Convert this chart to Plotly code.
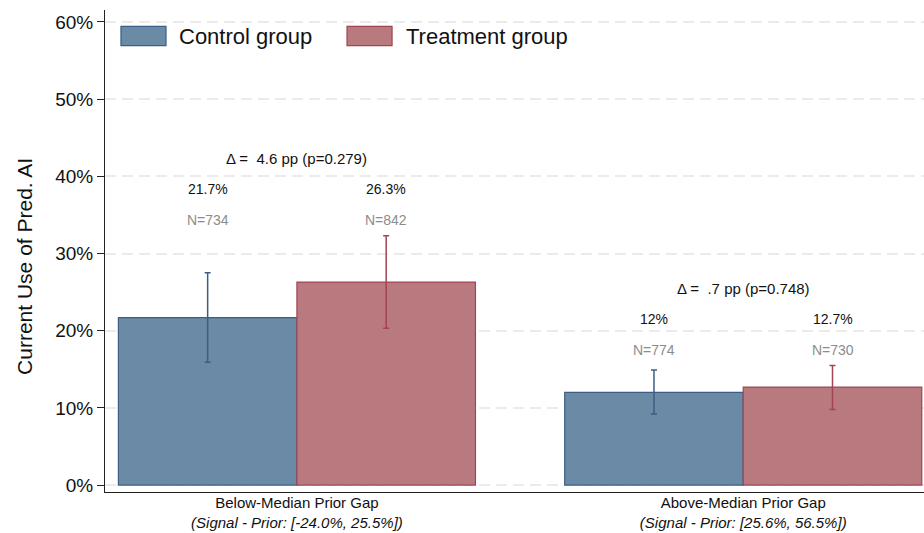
import plotly.graph_objects as go

# ---- data ----
groups = ["Below-Median Prior Gap", "Above-Median Prior Gap"]
gap_ranges = ["[-24.0%, 25.5%]", "[25.6%, 56.5%]"]
control = [21.7, 12.0]
treatment = [26.3, 12.7]
control_lo = [15.9, 9.2]
control_hi = [27.5, 14.9]
treatment_lo = [20.3, 9.8]
treatment_hi = [32.3, 15.5]
control_n = [734, 774]
treatment_n = [842, 730]
control_lbl = ["21.7%", "12%"]
treatment_lbl = ["26.3%", "12.7%"]
delta_pp = ["4.6", ".7"]
p_vals = ["0.279", "0.748"]
y_ticks = [0, 10, 20, 30, 40, 50, 60]

# ---- styles ----
C_FILL, C_LINE = "#6a8aa6", "#3b5f84"
T_FILL, T_LINE = "#b87a7e", "#a24452"
FONT = "Liberation Sans, Arial, sans-serif"
NARROW = "Liberation Sans Narrow, Arial Narrow, sans-serif"

xs = list(range(len(groups)))
ticktext = [f"{g}<br><i>(Signal - Prior: {r})</i>" for g, r in zip(groups, gap_ranges)]

fig = go.Figure()
fig.add_trace(go.Bar(
    x=xs, y=control, name="Control group", offsetgroup="c",
    marker=dict(color=C_FILL, line=dict(color=C_LINE, width=1.2)),
    error_y=dict(type="data", symmetric=False,
                 array=[h - v for h, v in zip(control_hi, control)],
                 arrayminus=[v - l for v, l in zip(control, control_lo)],
                 color=C_LINE, thickness=1.5, width=3),
))
fig.add_trace(go.Bar(
    x=xs, y=treatment, name="Treatment group", offsetgroup="t",
    marker=dict(color=T_FILL, line=dict(color=T_LINE, width=1.2)),
    error_y=dict(type="data", symmetric=False,
                 array=[h - v for h, v in zip(treatment_hi, treatment)],
                 arrayminus=[v - l for v, l in zip(treatment, treatment_lo)],
                 color=T_LINE, thickness=1.5, width=3),
))

annotations = []
for i in xs:
    top = max(control_hi[i], treatment_hi[i])
    for dx, lbl, n in ((-0.2, control_lbl[i], control_n[i]), (0.2, treatment_lbl[i], treatment_n[i])):
        annotations.append(dict(x=i + dx, y=top + 6, text=lbl, showarrow=False,
                                font=dict(size=14, color="#111111", family=FONT)))
        annotations.append(dict(x=i + dx, y=top + 2, text=f"N={n}", showarrow=False,
                                font=dict(size=14, color="#8c8c8c", family=FONT)))
    annotations.append(dict(x=i, y=top + 10,
                            text=f"\u0394 =\u00a0 {delta_pp[i]} pp (p={p_vals[i]})",
                            showarrow=False, font=dict(size=15, color="#111111", family=FONT)))

# legend drawn manually (large boxes like the reference)
shapes = [
    dict(type="rect", xref="paper", yref="paper", x0=0.0195, x1=0.0745, y0=0.926, y1=0.966,
         fillcolor=C_FILL, line=dict(color=C_LINE, width=1.2)),
    dict(type="rect", xref="paper", yref="paper", x0=0.2955, x1=0.3505, y0=0.926, y1=0.966,
         fillcolor=T_FILL, line=dict(color=T_LINE, width=1.2)),
]
annotations += [
    dict(xref="paper", yref="paper", x=0.088, y=0.946, xanchor="left", yanchor="middle",
         text="Control group", showarrow=False, font=dict(size=22, color="#111111", family=FONT)),
    dict(xref="paper", yref="paper", x=0.365, y=0.946, xanchor="left", yanchor="middle",
         text="Treatment group", showarrow=False, font=dict(size=22, color="#111111", family=FONT)),
    # y-axis title (placed a little below the plot centre, as in the reference)
    dict(xref="paper", yref="paper", x=0, xshift=-80, y=0.467, xanchor="center", yanchor="middle",
         textangle=-90, text="Current Use of Pred. AI", showarrow=False,
         font=dict(size=21, color="#111111", family=FONT)),
]

fig.update_layout(
    width=924, height=533,
    margin=dict(l=105, r=0, t=10, b=41, autoexpand=False),
    plot_bgcolor="white", paper_bgcolor="white",
    barmode="group", bargap=0.2, bargroupgap=0,
    showlegend=False,
    font=dict(family=FONT, color="#111111"),
    annotations=annotations, shapes=shapes,
    xaxis=dict(tickvals=xs, ticktext=ticktext, range=[-0.43, 1.405],
               showgrid=False, showline=True, linecolor="#222222", linewidth=1,
               ticks="", tickfont=dict(size=15, family=NARROW), automargin=False,
               ticklabelstandoff=-3, zeroline=False),
    yaxis=dict(range=[-0.9, 61.55], tickvals=y_ticks, ticktext=[f"{t}%" for t in y_ticks],
               showline=True, linecolor="#222222", linewidth=1,
               ticks="outside", ticklen=7, tickcolor="#222222",
               tickfont=dict(size=19), zeroline=False, automargin=False,
               showgrid=True, gridcolor="#ebebeb", griddash="11px,6px", gridwidth=1.5),
)

fig.write_html(
    "out.html",
    config={"displayModeBar": False},
    post_script="document.body.style.margin='0';document.body.style.overflow='hidden';"
                "document.documentElement.style.overflow='hidden';",
)
